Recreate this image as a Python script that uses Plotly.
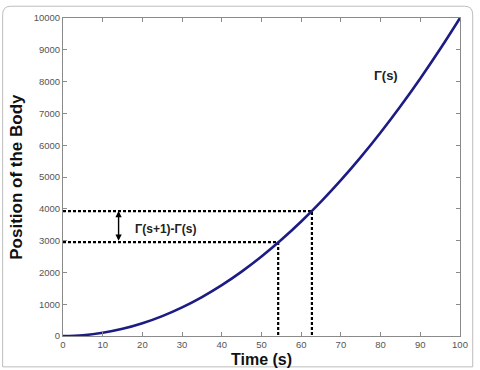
import plotly.graph_objects as go

time_s = [0, 5, 10, 15, 20, 25, 30, 35, 40, 45, 50, 55, 60, 65, 70, 75, 80, 85, 90, 95, 100]
position = [0, 25, 100, 225, 400, 625, 900, 1225, 1600, 2025, 2500, 3025, 3600, 4225, 4900, 5625, 6400, 7225, 8100, 9025, 10000]

s_lo, s_hi = 54.2, 62.7
g_lo, g_hi = 2950, 3930

x_ticks = [0, 10, 20, 30, 40, 50, 60, 70, 80, 90, 100]
y_ticks = [0, 1000, 2000, 3000, 4000, 5000, 6000, 7000, 8000, 9000, 10000]
y_tick_text = [str(v) for v in y_ticks]

fig = go.Figure()
dash_style = dict(color="black", width=2.2, dash="3px,2px")
fig.add_trace(go.Scatter(x=[0, s_hi, s_hi], y=[g_hi, g_hi, 0], mode="lines", line=dash_style, hoverinfo="skip"))
fig.add_trace(go.Scatter(x=[0, s_lo, s_lo], y=[g_lo, g_lo, 0], mode="lines", line=dash_style, hoverinfo="skip"))
fig.add_trace(go.Scatter(x=time_s, y=position, mode="lines",
                         line=dict(color="#1c1c84", width=2.6, shape="spline")))

axis_common = dict(showgrid=False, zeroline=False, showline=True, linecolor="#8a8a8a", linewidth=1,
                   mirror="ticks", ticks="inside", ticklen=4, tickcolor="#8a8a8a",
                   tickfont=dict(family="Liberation Sans, Arial", size=9.5, color="#555555"))

fig.update_layout(
    width=480, height=370,
    margin=dict(l=63, r=15, t=15, b=34),
    paper_bgcolor="white", plot_bgcolor="white",
    showlegend=False,
    xaxis=dict(range=[0, 100], tickvals=x_ticks, **axis_common),
    yaxis=dict(range=[0, 10000], tickvals=y_ticks, ticktext=y_tick_text, **axis_common),
    annotations=[
        dict(text="<b>Time (s)</b>", x=0.5, y=-0.075, xref="paper", yref="paper", showarrow=False,
             xanchor="center", yanchor="middle", font=dict(family="Liberation Sans, Arial", size=16, color="#111")),
        dict(text="<b>Position of the Body</b>", x=-0.119, y=0.5, xref="paper", yref="paper",
             xanchor="center", yanchor="middle",
             showarrow=False, textangle=-90, font=dict(family="Liberation Sans, Arial", size=17, color="#111")),
        dict(text="<b>Γ(s+1)-Γ(s)</b>", x=25.7, y=3364, showarrow=False,
             font=dict(family="Liberation Sans, Arial", size=12, color="#222")),
        dict(text="<b>Γ(s)</b>", x=81.3, y=8193, showarrow=False,
             font=dict(family="Liberation Sans, Arial", size=13, color="#222")),
        dict(x=14, y=g_hi, ax=14, ay=g_lo, xref="x", yref="y", axref="x", ayref="y", text="",
             showarrow=True, arrowhead=2, arrowside="end+start", arrowsize=0.9, arrowwidth=1.4,
             arrowcolor="black", startarrowhead=2, startarrowsize=0.9),
    ],
    shapes=[
        dict(type="path", xref="paper", yref="paper",
             path="M -0.152,-0.097 L 1.032,-0.097 L 1.032,1.01 Q 1.032,1.037 1.012,1.037 L -0.132,1.037 Q -0.152,1.037 -0.152,1.01 Z",
             line=dict(color="#bdbdbd", width=1)),
    ],
)

fig.write_html("out.html")
